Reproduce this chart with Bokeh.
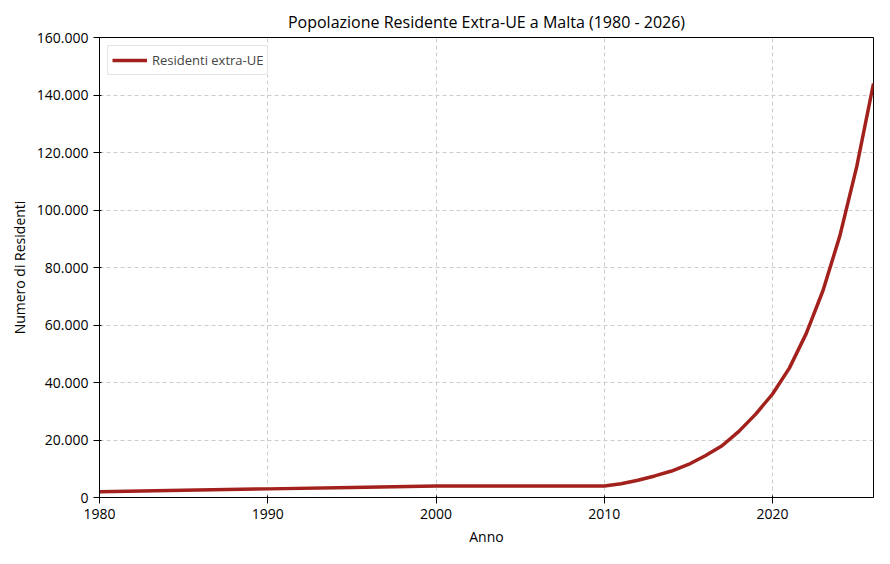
from bokeh.plotting import figure
from bokeh.models import CustomJSTickFormatter, Range1d, FixedTicker
from bokeh.embed import file_html
from bokeh.resources import INLINE

years = [1980, 1985, 1990, 1995, 2000, 2005, 2010, 2011, 2012, 2013, 2014, 2015, 2016,
         2017, 2018, 2019, 2020, 2021, 2022, 2023, 2024, 2025, 2026]
residents = [2000, 2500, 3000, 3500, 4000, 4000, 4000, 4800, 6000, 7500, 9200, 11500, 14500,
             18000, 23000, 29000, 36000, 45000, 57000, 72000, 91000, 115000, 144000]
y_ticks = list(range(0, 160001, 20000))
x_ticks = [1980, 1990, 2000, 2010, 2020]

p = figure(width=874, height=548, output_backend="svg", toolbar_location=None,
           title="Popolazione Residente Extra-UE a Malta (1980 - 2026)",
           x_axis_label="Anno", y_axis_label="Numero di Residenti",
           x_range=Range1d(1980, 2026), y_range=Range1d(0, 160000),
           min_border_left=99, min_border_right=1, min_border_top=37, min_border_bottom=50)
p.title.align = "center"
p.title.text_font = "Open Sans"
p.title.text_font_size = "16px"
p.title.text_font_style = "normal"
p.title.text_color = "black"
p.line(years, residents, line_color="#a2211c", line_width=3.5, legend_label="Residenti extra-UE")
p.yaxis.ticker = FixedTicker(ticks=y_ticks)
p.xaxis.ticker = FixedTicker(ticks=x_ticks)
p.yaxis.formatter = CustomJSTickFormatter(code="return tick.toString().replace(/\\B(?=(\\d{3})+(?!\\d))/g, '.');")
for ax in (p.xaxis, p.yaxis):
    ax.major_label_text_font = "Open Sans"
    ax.major_label_text_font_size = "14px"
    ax.major_label_text_color = "black"
    ax.axis_label_text_font = "Open Sans"
    ax.axis_label_text_font_size = "14px"
    ax.axis_label_text_font_style = "normal"
    ax.axis_label_text_color = "black"
    ax.minor_tick_line_color = None
    ax.axis_line_color = "black"
p.grid.grid_line_dash = "4 3"
p.grid.grid_line_color = "#cccccc"
p.outline_line_color = "black"
p.legend.location = "top_left"
p.legend.label_text_font = "Open Sans"
p.legend.label_text_font_size = "13px"
p.legend.border_line_color = "#cccccc"
p.legend.glyph_width = 35
p.legend.padding = 4
p.legend.margin = 8

open("out.html", "w").write(file_html(p, INLINE))
